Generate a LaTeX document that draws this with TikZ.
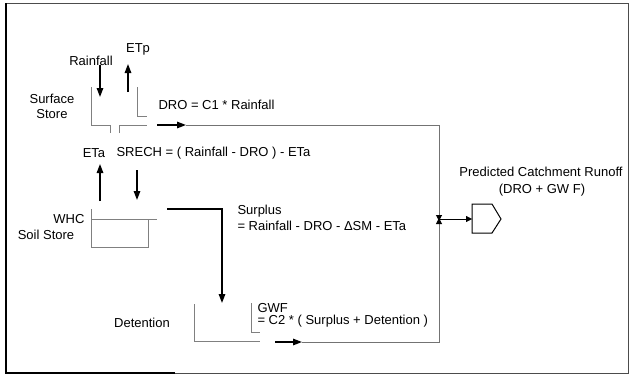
\documentclass[tikz,border=0pt]{standalone}
\usepackage{fontspec}
\setmainfont{Liberation Sans}
\usetikzlibrary{arrows.meta}

\begin{document}
\begin{tikzpicture}[x=1bp, y=-1bp, font=\fontsize{13bp}{15bp}\selectfont,
  wall/.style={draw=gray, line width=0.8bp},
  pipe/.style={draw=gray!90!black, line width=1bp},
  flow/.style={line width=1.4bp, -{Triangle[length=9bp,width=6.5bp]}},
  meet/.style={-{Triangle[length=6bp,width=6bp,color=black]}}]
\useasboundingbox (0,0) rectangle (630,379);
\draw [black!70, line width=1bp] (6,3) rectangle (628,373);
\draw [black, line width=1.6bp] (6,3) -- (6,373) -- (175,373);

\node (rain) at (91,61) {Rainfall};
\node (etp) at (138,49) {ETp};
\node [align=center] (surf) at (52,106) {Surface\\Store};
\node [anchor=west] (dro) at (155,105) {DRO = C1 * Rainfall};
\node (eta) at (94,153) {ETa};
\node [anchor=west] (srech) at (113,153) {SRECH = ( Rainfall - DRO ) - ETa};
\node [anchor=east] (whc) at (88,219) {WHC};
\node (soil) at (46,235) {Soil Store};
\node [anchor=west] (surplus) at (234,211) {Surplus};
\node [anchor=west] (surpeq) at (234,226) {= Rainfall - DRO - ΔSM - ETa};
\node (det) at (142,323) {Detention};
\node [anchor=west] (gwf) at (254,308) {GWF};
\node [anchor=west] (gwfeq) at (254,321) {= C2 * ( Surplus + Detention )};
\node (pred) at (541,172) {Predicted Catchment Runoff};
\node (predeq) at (542,190) {(DRO + GW F)};

\draw [wall] (91,87) -- (91,125) -- (110,125) -- (110,133);
\draw [wall] (119,133) -- (119,125) -- (147,125);
\draw [wall] (137,87) -- (137,116) -- (147,116);
\draw [wall] (91,209) -- (91,247) -- (148,247) -- (148,219);
\draw [wall] (91,219) -- (157,219);
\draw [wall] (194,304) -- (194,341) -- (260,341);
\draw [wall] (251,303) -- (251,332) -- (260,332);

\coordinate (rainin) at (100,65);
\coordinate (rainend) at (100,97);
\coordinate (etpout) at (128,92);
\coordinate (etpend) at (128,64);
\coordinate (drostart) at (157,125);
\coordinate (drohead) at (186,125);
\coordinate (etaout) at (100,201);
\coordinate (etaend) at (100,164);
\coordinate (srechin) at (137,170);
\coordinate (srechend) at (137,200);
\coordinate (spill) at (167,209);
\coordinate (detin) at (222,303);
\coordinate (gwfstart) at (275,342);
\coordinate (gwfhead) at (302,342);
\coordinate (join) at (439,219);
\coordinate (outlet) at (472,219);

\draw [flow] (rainin) -- (rainend);
\draw [flow] (etpout) -- (etpend);
\draw [flow] (drostart) -- (drohead);
\draw [flow] (etaout) -- (etaend);
\draw [flow] (srechin) -- (srechend);
\draw [flow] (spill) -| (detin);
\draw [flow] (gwfstart) -- (gwfhead);

\draw [pipe, meet] (drohead) -| ([yshift=-2bp]join);
\draw [pipe, meet] (gwfhead) -| ([yshift=1bp]join);
\draw [meet] (join) -- (outlet);
\draw [line width=1bp] (outlet) |- (492,204) -- (501,219) -- (492,233) -| (outlet);
\end{tikzpicture}
\end{document}
